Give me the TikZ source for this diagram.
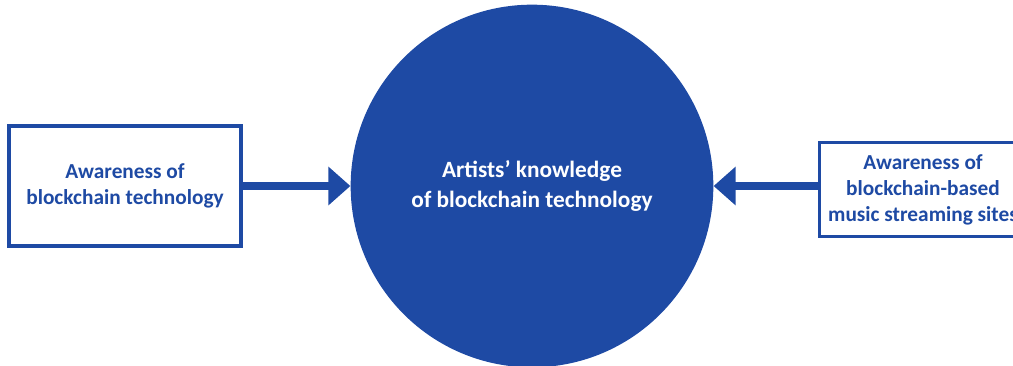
\documentclass[tikz,border=0pt]{standalone}
\usepackage{fontspec}
\setmainfont{Carlito}
\usetikzlibrary{arrows.meta}
\definecolor{kblue}{HTML}{1E4AA4}
\begin{document}
\begin{tikzpicture}[x=0.75pt,y=-0.75pt,
    box/.style={draw=kblue,line width=2.4pt,fill=white,text=kblue,font=\bfseries\fontsize{16}{19.5}\selectfont,align=center,inner sep=0pt},
    link/.style={draw=kblue,line width=5.4pt,-{Triangle[length=16.5pt,width=28pt]}}]
      \useasboundingbox (0,0) rectangle (1013,365);
      \clip (0,0) rectangle (1013,365);
      \draw
        (532,186) node[circle,fill=kblue,minimum size=272pt,text=white,font=\bfseries\fontsize{17.5}{23}\selectfont,align=center] (circ){Artists’ knowledge\\of blockchain technology}
        (125,186) node[box,minimum width=174pt,minimum height=90pt] (lbox){Awareness of\\blockchain technology}
        (923,189.5) node[box,minimum width=155pt,minimum height=71pt] (rbox){Awareness of\\blockchain-based\\music streaming sites};
      \begin{scope}
        \draw[link] (lbox.east) to (circ.west);
        \draw[link] (rbox.west |- circ.east) to (circ.east);
      \end{scope}
    \end{tikzpicture}
\end{document}
